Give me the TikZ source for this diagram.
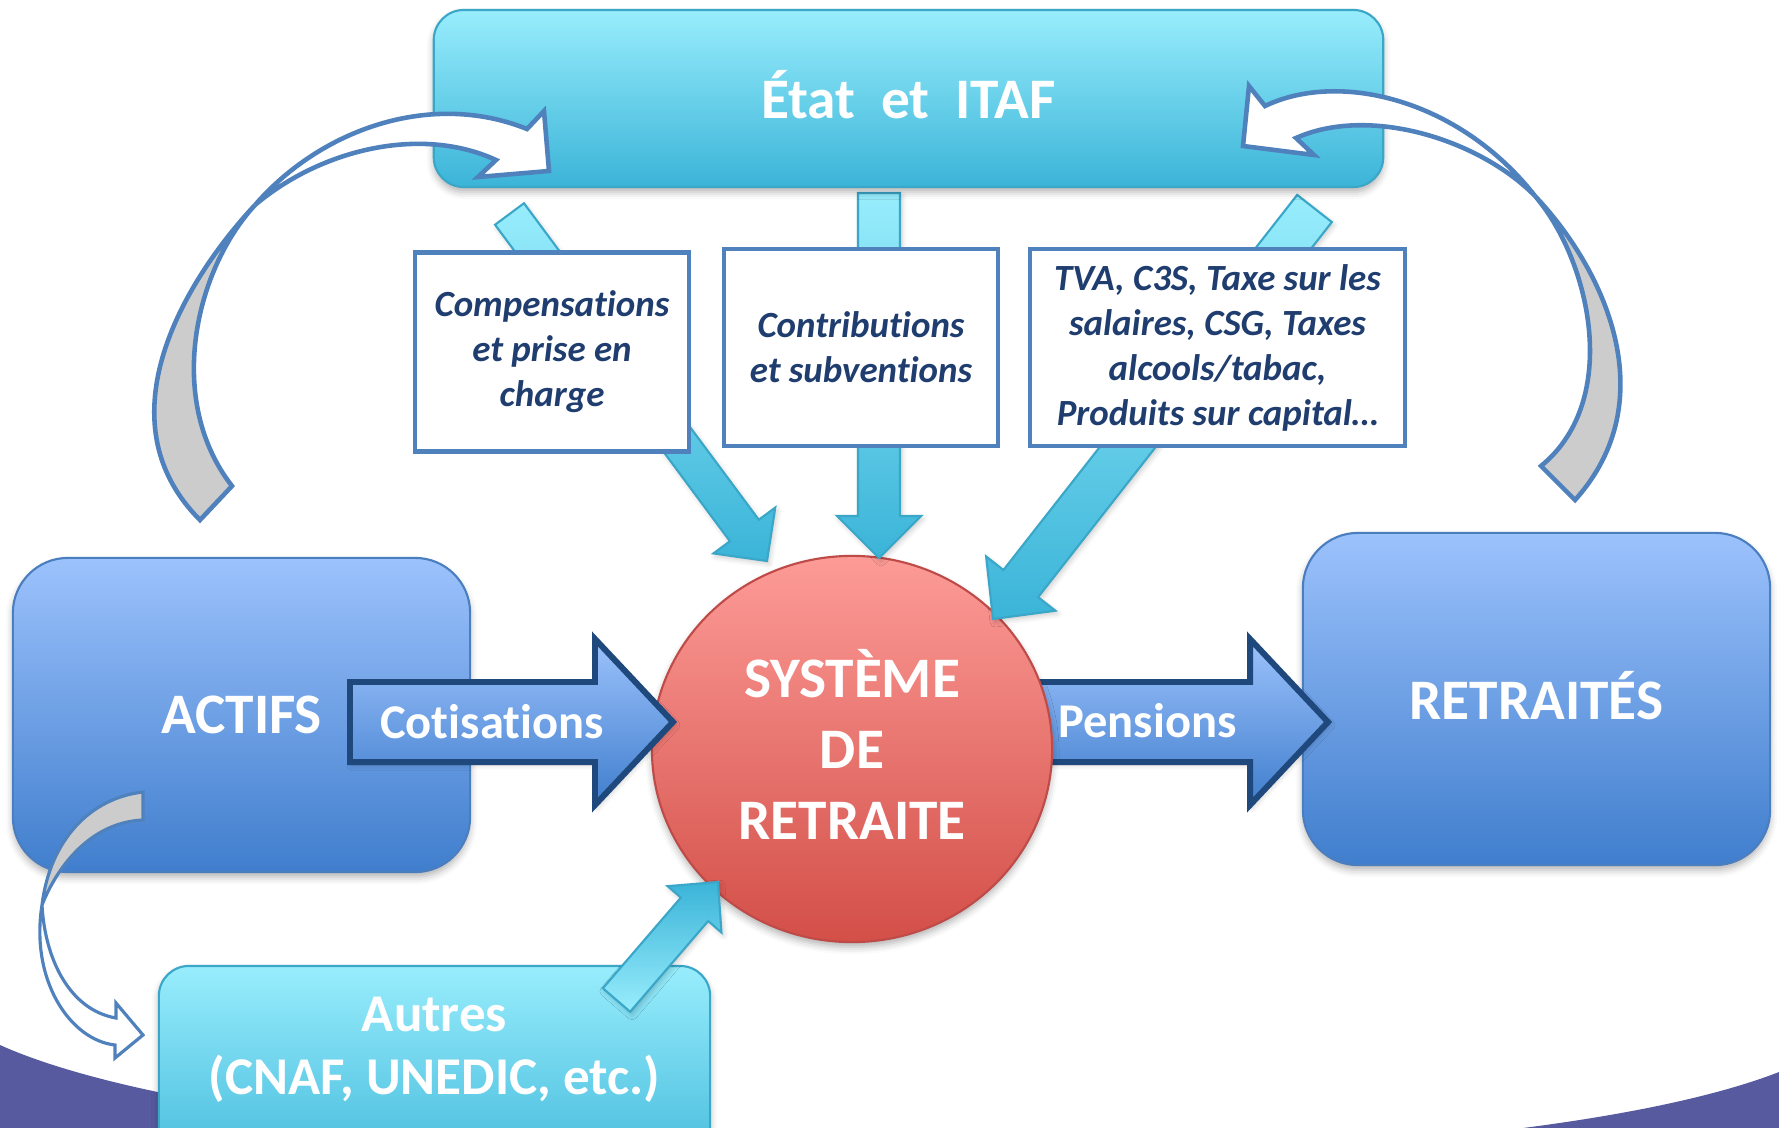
\documentclass[tikz,border=0pt]{standalone}
\usepackage{fontspec}
\setmainfont{Carlito}[Ligatures={NoCommon}]
\usetikzlibrary{calc,shapes.geometric,shadows.blur}
\definecolor{cyanTop}{HTML}{98EDFC}
\definecolor{cyanBot}{HTML}{3BB4D8}
\definecolor{cyanLine}{HTML}{3AA6C8}
\definecolor{blueTop}{HTML}{9CC2FC}
\definecolor{blueBot}{HTML}{407ECD}
\definecolor{blueLine}{HTML}{4A7EBF}
\definecolor{navyLine}{HTML}{1F497D}
\definecolor{redTop}{HTML}{FD9B97}
\definecolor{redBot}{HTML}{D34F48}
\definecolor{redLine}{HTML}{BE4B48}
\definecolor{outl}{HTML}{4F81BD}
\definecolor{txtnavy}{HTML}{1F3D6E}
\definecolor{purpleBg}{HTML}{575A9F}
\definecolor{grayBack}{HTML}{CCCCCC}
\newcommand\lblBig{\bfseries\fontsize{16.3}{20.2}\selectfont}
\newcommand\lblMid{\bfseries\fontsize{13.8}{16}\selectfont}
\newcommand\lblAut{\bfseries\fontsize{15.1}{17.9}\selectfont}
\newcommand\lblSmall{\bfseries\itshape\fontsize{10.5}{12.8}\selectfont}
% #1 style, #2 tail, #3 tip, #4 half shaft, #5 half head, #6 head length
\newcommand\cyarrow[6]{%
  \coordinate (cb) at ($#3!#6!#2$);
  \path[#1] ($#2!#4!90:#3$) -- ($(cb)!#4!-90:#2$) -- ($(cb)!#5!-90:#2$) -- #3
     -- ($(cb)!#5!90:#2$) -- ($(cb)!#4!90:#2$) -- ($#2!#4!-90:#3$) -- cycle;}
\tikzset{
  shadowed/.style={blur shadow={shadow xshift=0pt,shadow yshift=-0.05cm,shadow blur radius=0.07cm,shadow opacity=30}},
  lightshadow/.style={blur shadow={shadow xshift=0.02cm,shadow yshift=-0.03cm,shadow blur radius=0.05cm,shadow opacity=20}},
  cyanbox/.style={draw=cyanLine, line width=0.6pt, top color=cyanTop, bottom color=cyanBot, shadowed},
  bluebox/.style={draw=blueLine, line width=0.6pt, top color=blueTop, bottom color=blueBot,
     rounded corners=0.55cm, text=white, font=\lblBig, shadowed},
  blockarr/.style={draw=navyLine, line width=1.7pt, top color=blueTop, bottom color=blueBot, lightshadow},
  redcirc/.style={ellipse, draw=redLine, line width=0.6pt, top color=redTop, bottom color=redBot, shadowed},
  cyanarr/.style={draw=cyanLine, line width=0.6pt, top color=cyanTop, bottom color=cyanBot, lightshadow},
  cyanarrup/.style={draw=cyanLine, line width=0.6pt, top color=cyanBot, bottom color=cyanTop, lightshadow},
  txtbox/.style={draw=outl, line width=1.3pt, fill=white, text=txtnavy, font=\lblSmall, align=center},
  whitelbl/.style={text=white},
  curvW/.style={fill=white, draw=outl, line width=1.3pt},
  curvG/.style={fill=grayBack, draw=outl, line width=1.3pt},
}
\begin{document}
\begin{tikzpicture}[x=0.01cm,y=-0.01cm]
\useasboundingbox (0,0) rectangle (1779,1127);
\clip (0,0) rectangle (1779,1127);
% background decoration
\fill[purpleBg] (0,1045) .. controls (300,1180) and (1450,1200) .. (1779,1072) -- (1779,1300) -- (0,1300) -- cycle;

% Autres
\node[cyanbox, rounded corners=0.3cm, minimum width=5.51cm, minimum height=2.3cm] (autres) at (434.5,1081) {};
\node[whitelbl, font=\lblAut, align=center] (autreslbl) at (434.5,1050) {Autres\\(CNAF, UNEDIC, etc.)};

% Actifs / Retraites
\node[bluebox, minimum width=4.57cm, minimum height=3.14cm, text height=0.36cm, text depth=0pt] (actifs) at (241.5,715) {ACTIFS};
\node[bluebox, minimum width=4.67cm, minimum height=3.32cm, text height=0.40cm, text depth=0pt] (retraites) at (1536.5,699) {RETRAITÉS};

% Pensions arrow
\coordinate (penS) at (1000,722);
\coordinate (penE) at (1328,722);
\path[blockarr] ($(penS)+(0,-40)$) -- ($(penE)+(-78,-40)$) -- ($(penE)+(-78,-83)$) -- (penE)
   -- ($(penE)+(-78,83)$) -- ($(penE)+(-78,40)$) -- ($(penS)+(0,40)$) -- cycle;
\node[whitelbl, font=\lblMid, anchor=base] (penlbl) at (1147.5,737) {Pensions};

% Systeme
\node[redcirc, minimum width=4.0cm, minimum height=3.86cm] (sys) at (852,749) {};
\node[whitelbl, font=\lblBig, align=center] (syslbl) at (852,744) {SYSTÈME\\DE\\RETRAITE};

% Cotisations arrow
\coordinate (cotS) at (350,722);
\coordinate (cotE) at (673,722);
\path[blockarr] ($(cotS)+(0,-40)$) -- ($(cotE)+(-78,-40)$) -- ($(cotE)+(-78,-83)$) -- (cotE)
   -- ($(cotE)+(-78,83)$) -- ($(cotE)+(-78,40)$) -- ($(cotS)+(0,40)$) -- cycle;
\node[whitelbl, font=\lblMid, anchor=base] (cotlbl) at (492,738) {Cotisations};

% cyan arrows
\coordinate (a1t) at (509.5,214);  \coordinate (a1p) at (767,561);
\coordinate (a2t) at (879,193);    \coordinate (a2p) at (879,558);
\coordinate (a3t) at (1314.5,208.5); \coordinate (a3p) at (993,619);
\coordinate (a4t) at (616.5,1000); \coordinate (a4p) at (718,882);
\cyarrow{cyanarr}{(a1t)}{(a1p)}{0.18cm}{0.385cm}{0.38cm}
\cyarrow{cyanarr}{(a2t)}{(a2p)}{0.21cm}{0.42cm}{0.42cm}
\cyarrow{cyanarr}{(a3t)}{(a3p)}{0.22cm}{0.44cm}{0.45cm}
\cyarrow{cyanarrup}{(a4t)}{(a4p)}{0.18cm}{0.355cm}{0.36cm}

% text boxes
\node[txtbox, minimum width=2.74cm, minimum height=1.99cm] (comp) at (552,352) {Compensations\\et prise en\\charge};
\node[txtbox, minimum width=2.74cm, minimum height=1.97cm] (contrib) at (861,347.5) {Contributions\\et subventions};
\node[txtbox, minimum width=3.75cm, minimum height=1.97cm] (tva) at (1217.5,347.5) {TVA, C3S, Taxe sur les\\salaires, CSG, Taxes\\alcools/tabac,\\Produits sur capital…};

% Etat
\node[cyanbox, rounded corners=0.3cm, minimum width=9.49cm, minimum height=1.77cm, text height=0.39cm, text depth=0pt,
      text=white, font=\lblBig] (etat) at (908.5,98.5) {État~~et~~ITAF};

% left curved arrow
\path[curvG] (255,205) .. controls (185,280) and (100,420) .. (200,520) -- (232,486)
   .. controls (165,400) and (195,270) .. (255,205);
\path[curvW] (255,205) .. controls (320,130) and (430,90) .. (527,129) -- (544,111) -- (549,171)
   -- (478,177) -- (496,160) .. controls (420,125) and (320,150) .. (255,205);
% right curved arrow
\path[curvG] (1535,196) .. controls (1605,270) and (1665,400) .. (1575,500) -- (1541,466)
   .. controls (1622,400) and (1590,260) .. (1535,196);
\path[curvW] (1535,196) .. controls (1480,140) and (1370,105) .. (1296,138) -- (1314,155) -- (1243,146)
   -- (1249,86) -- (1265,106) .. controls (1340,70) and (1460,100) .. (1535,196);
% small curved arrow
\path[curvG, line width=0.9pt] (42,905) .. controls (50,840) and (90,798) .. (143,792) -- (143,820)
   .. controls (95,822) and (60,860) .. (42,905);
\path[curvW, line width=0.9pt] (42,905) .. controls (30,980) and (70,1040) .. (115,1045) -- (115,1058)
   -- (143,1035) -- (116,1003) -- (116,1018) .. controls (70,1010) and (45,960) .. (42,905);
\end{tikzpicture}
\end{document}
